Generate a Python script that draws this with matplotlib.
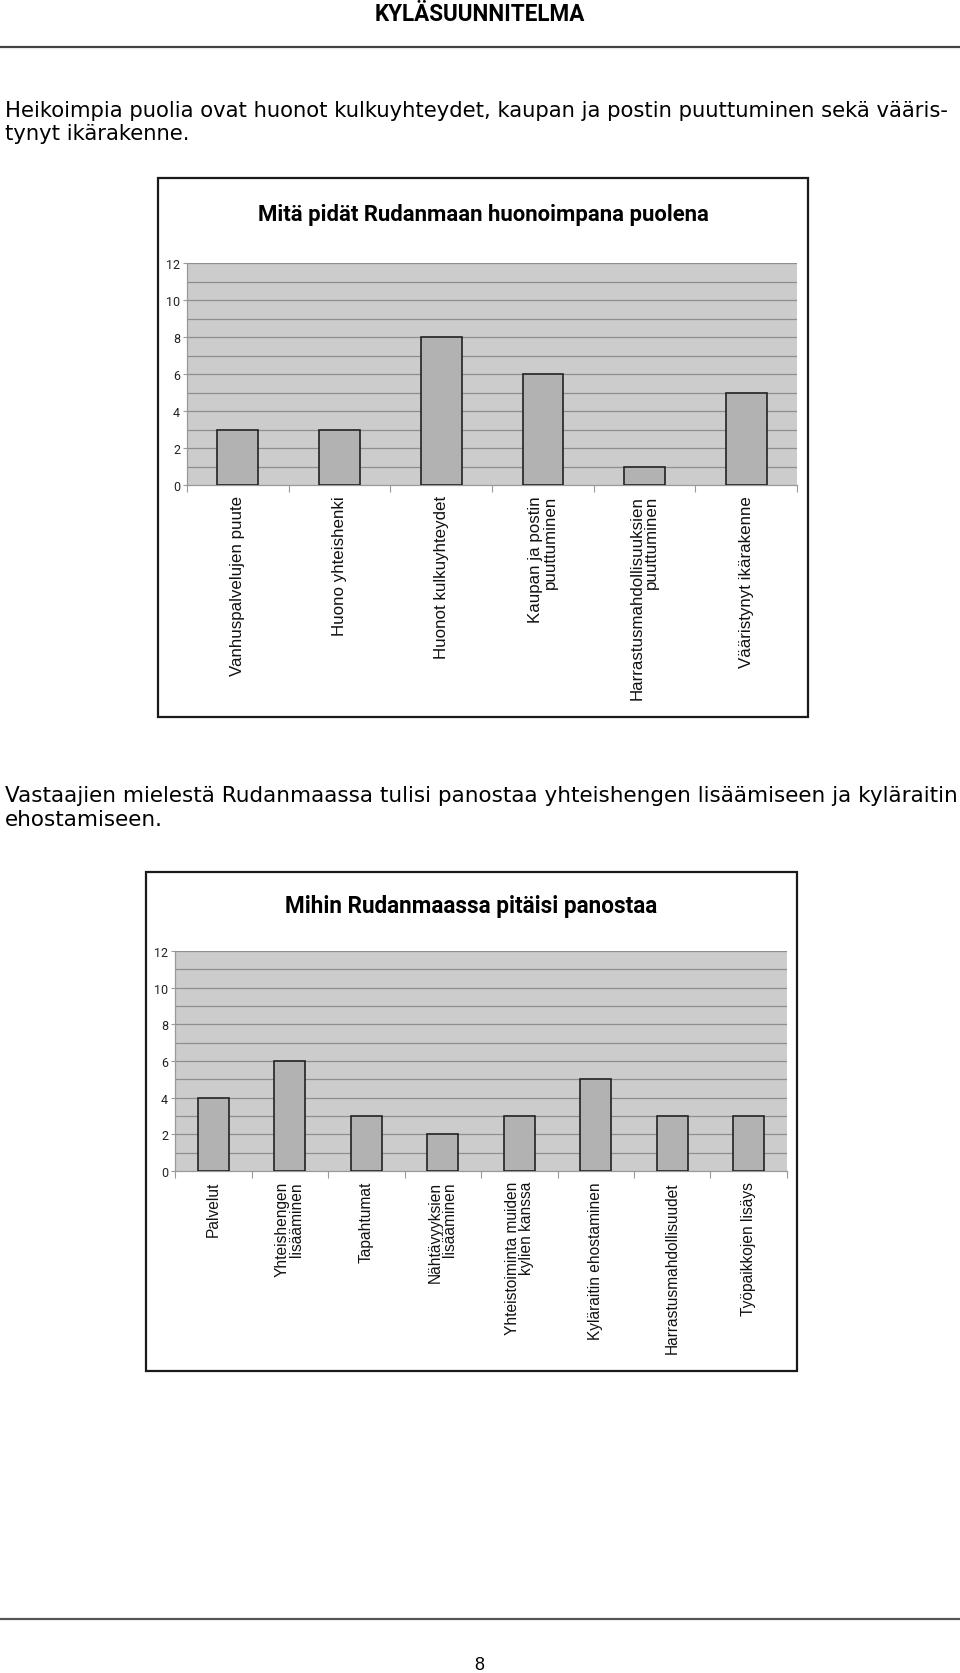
import matplotlib
matplotlib.use("Agg")
import matplotlib.pyplot as plt
from matplotlib.patches import Rectangle
from matplotlib.lines import Line2D
from matplotlib import font_manager

# ---------------- data ----------------
header_text = "KYLÄSUUNNITELMA"
para1 = ["Heikoimpia puolia ovat huonot kulkuyhteydet, kaupan ja postin puuttuminen sekä vääris-",
         "tynyt ikärakenne."]
para2 = ["Vastaajien mielestä Rudanmaassa tulisi panostaa yhteishengen lisäämiseen ja kyläraitin",
         "ehostamiseen."]

title1 = "Mitä pidät Rudanmaan huonoimpana puolena"
categories1 = ["Vanhuspalvelujen puute", "Huono yhteishenki", "Huonot kulkuyhteydet",
               "Kaupan ja postin\npuuttuminen", "Harrastusmahdollisuuksien\npuuttuminen",
               "Vääristynyt ikärakenne"]
values1 = [3, 3, 8, 6, 1, 5]

title2 = "Mihin Rudanmaassa pitäisi panostaa"
categories2 = ["Palvelut", "Yhteishengen\nlisääminen", "Tapahtumat", "Nähtävyyksien\nlisääminen",
               "Yhteistoiminta muiden\nkylien kanssa", "Kyläraitin ehostaminen",
               "Harrastusmahdollisuudet", "Työpaikkojen lisäys"]
values2 = [4, 6, 3, 2, 3, 5, 3, 3]

yticks = [0, 2, 4, 6, 8, 10, 12]
page_number = "8"

# ---------------- layout ----------------
W, H = 960, 1674
fig = plt.figure(figsize=(W / 100, H / 100), dpi=100)
fig.patch.set_facecolor("white")

avail = {f.name for f in font_manager.fontManager.ttflist}
SANS = "Liberation Sans" if "Liberation Sans" in avail else "DejaVu Sans"
if "Liberation Sans Narrow" in avail:
    NARROW = "Liberation Sans Narrow"
elif "Roboto" in avail:
    NARROW = "Roboto"
else:
    NARROW = SANS
PARA = "DejaVu Sans"

def fx(x):
    return x / W

def fy(y):
    return 1 - y / H

renderer = fig.canvas.get_renderer()

def fit_text(x, y, s, target_w, size=12, **kw):
    t = fig.text(fx(x), fy(y), s, fontsize=size, **kw)
    w = t.get_window_extent(renderer).width
    t.set_fontsize(size * target_w / w)
    return t.get_fontsize()

# header + rule lines
fit_text(480, 21, header_text, 211, ha="center", va="baseline",
         family=NARROW, weight="bold")
fig.add_artist(Line2D([0, 1], [fy(48), fy(48)], color="#444444", lw=1.6))
fig.add_artist(Line2D([0, 1], [fy(1620), fy(1620)], color="#555555", lw=1.6))
fig.text(fx(479), fy(1670), page_number, ha="center", va="baseline",
         fontsize=13, family=SANS)

# paragraphs
fs = fit_text(5, 117, para1[0], 943, ha="left", va="baseline", family=PARA)
fig.text(fx(5), fy(140), para1[1], ha="left", va="baseline", fontsize=fs, family=PARA)
fs2 = fit_text(5, 802, para2[0], 949, ha="left", va="baseline", family=PARA)
fig.text(fx(5), fy(826), para2[1], ha="left", va="baseline", fontsize=fs2, family=PARA)


def chart(box, plot, title, title_w, title_base, cats, vals, label_fs, tick_fs):
    bx0, by0, bx1, by1 = box
    fig.add_artist(Rectangle((fx(bx0), fy(by1)), (bx1 - bx0) / W, (by1 - by0) / H,
                             transform=fig.transFigure, fill=False,
                             edgecolor="#1a1a1a", lw=1.6))
    fit_text((bx0 + bx1) / 2, title_base, title, title_w, ha="center",
             va="baseline", family=NARROW, weight="bold")
    px0, py0, px1, py1 = plot
    ax = fig.add_axes([fx(px0), fy(py1), (px1 - px0) / W, (py1 - py0) / H])
    ax.set_facecolor("#cccccc")
    n = len(cats)
    x = list(range(n))
    ax.set_xlim(-0.5, n - 0.5)
    ax.set_ylim(0, 12)
    for g in range(1, 13):
        ax.axhline(g, color="#8e8e8e", lw=0.9, zorder=1)
    ax.bar(x, vals, width=0.4, color="#b2b2b2", edgecolor="#222222",
           linewidth=1.2, zorder=3)
    for s in ["top", "right"]:
        ax.spines[s].set_visible(False)
    for s in ["left", "bottom"]:
        ax.spines[s].set_color("#999999")
        ax.spines[s].set_linewidth(0.9)
    ax.set_yticks(yticks)
    ax.set_yticklabels([str(v) for v in yticks], fontsize=tick_fs, family=NARROW,
                       color="#222222")
    ax.tick_params(axis="y", length=3, width=0.8, color="#999999", pad=2)
    ax.set_xticks([i - 0.5 for i in range(n + 1)])
    ax.set_xticklabels([])
    ax.tick_params(axis="x", length=5, width=0.8, color="#999999")
    gap_axes = -10 / (py1 - py0)
    for i, c in enumerate(cats):
        ax.text(i, gap_axes, c, transform=ax.get_xaxis_transform(), rotation=90,
                ha="center", va="top", multialignment="right", fontsize=label_fs,
                family=SANS, linespacing=0.95, color="#111111")
    return ax


chart((158, 179, 808, 718), (187, 264, 797, 486), title1, 448, 221,
      categories1, values1, 12.2, 9)
chart((146, 873, 797, 1372), (175, 952, 787, 1172), title2, 371, 913,
      categories2, values2, 11.2, 9)

fig.savefig("out.png", dpi=100, facecolor="white")
